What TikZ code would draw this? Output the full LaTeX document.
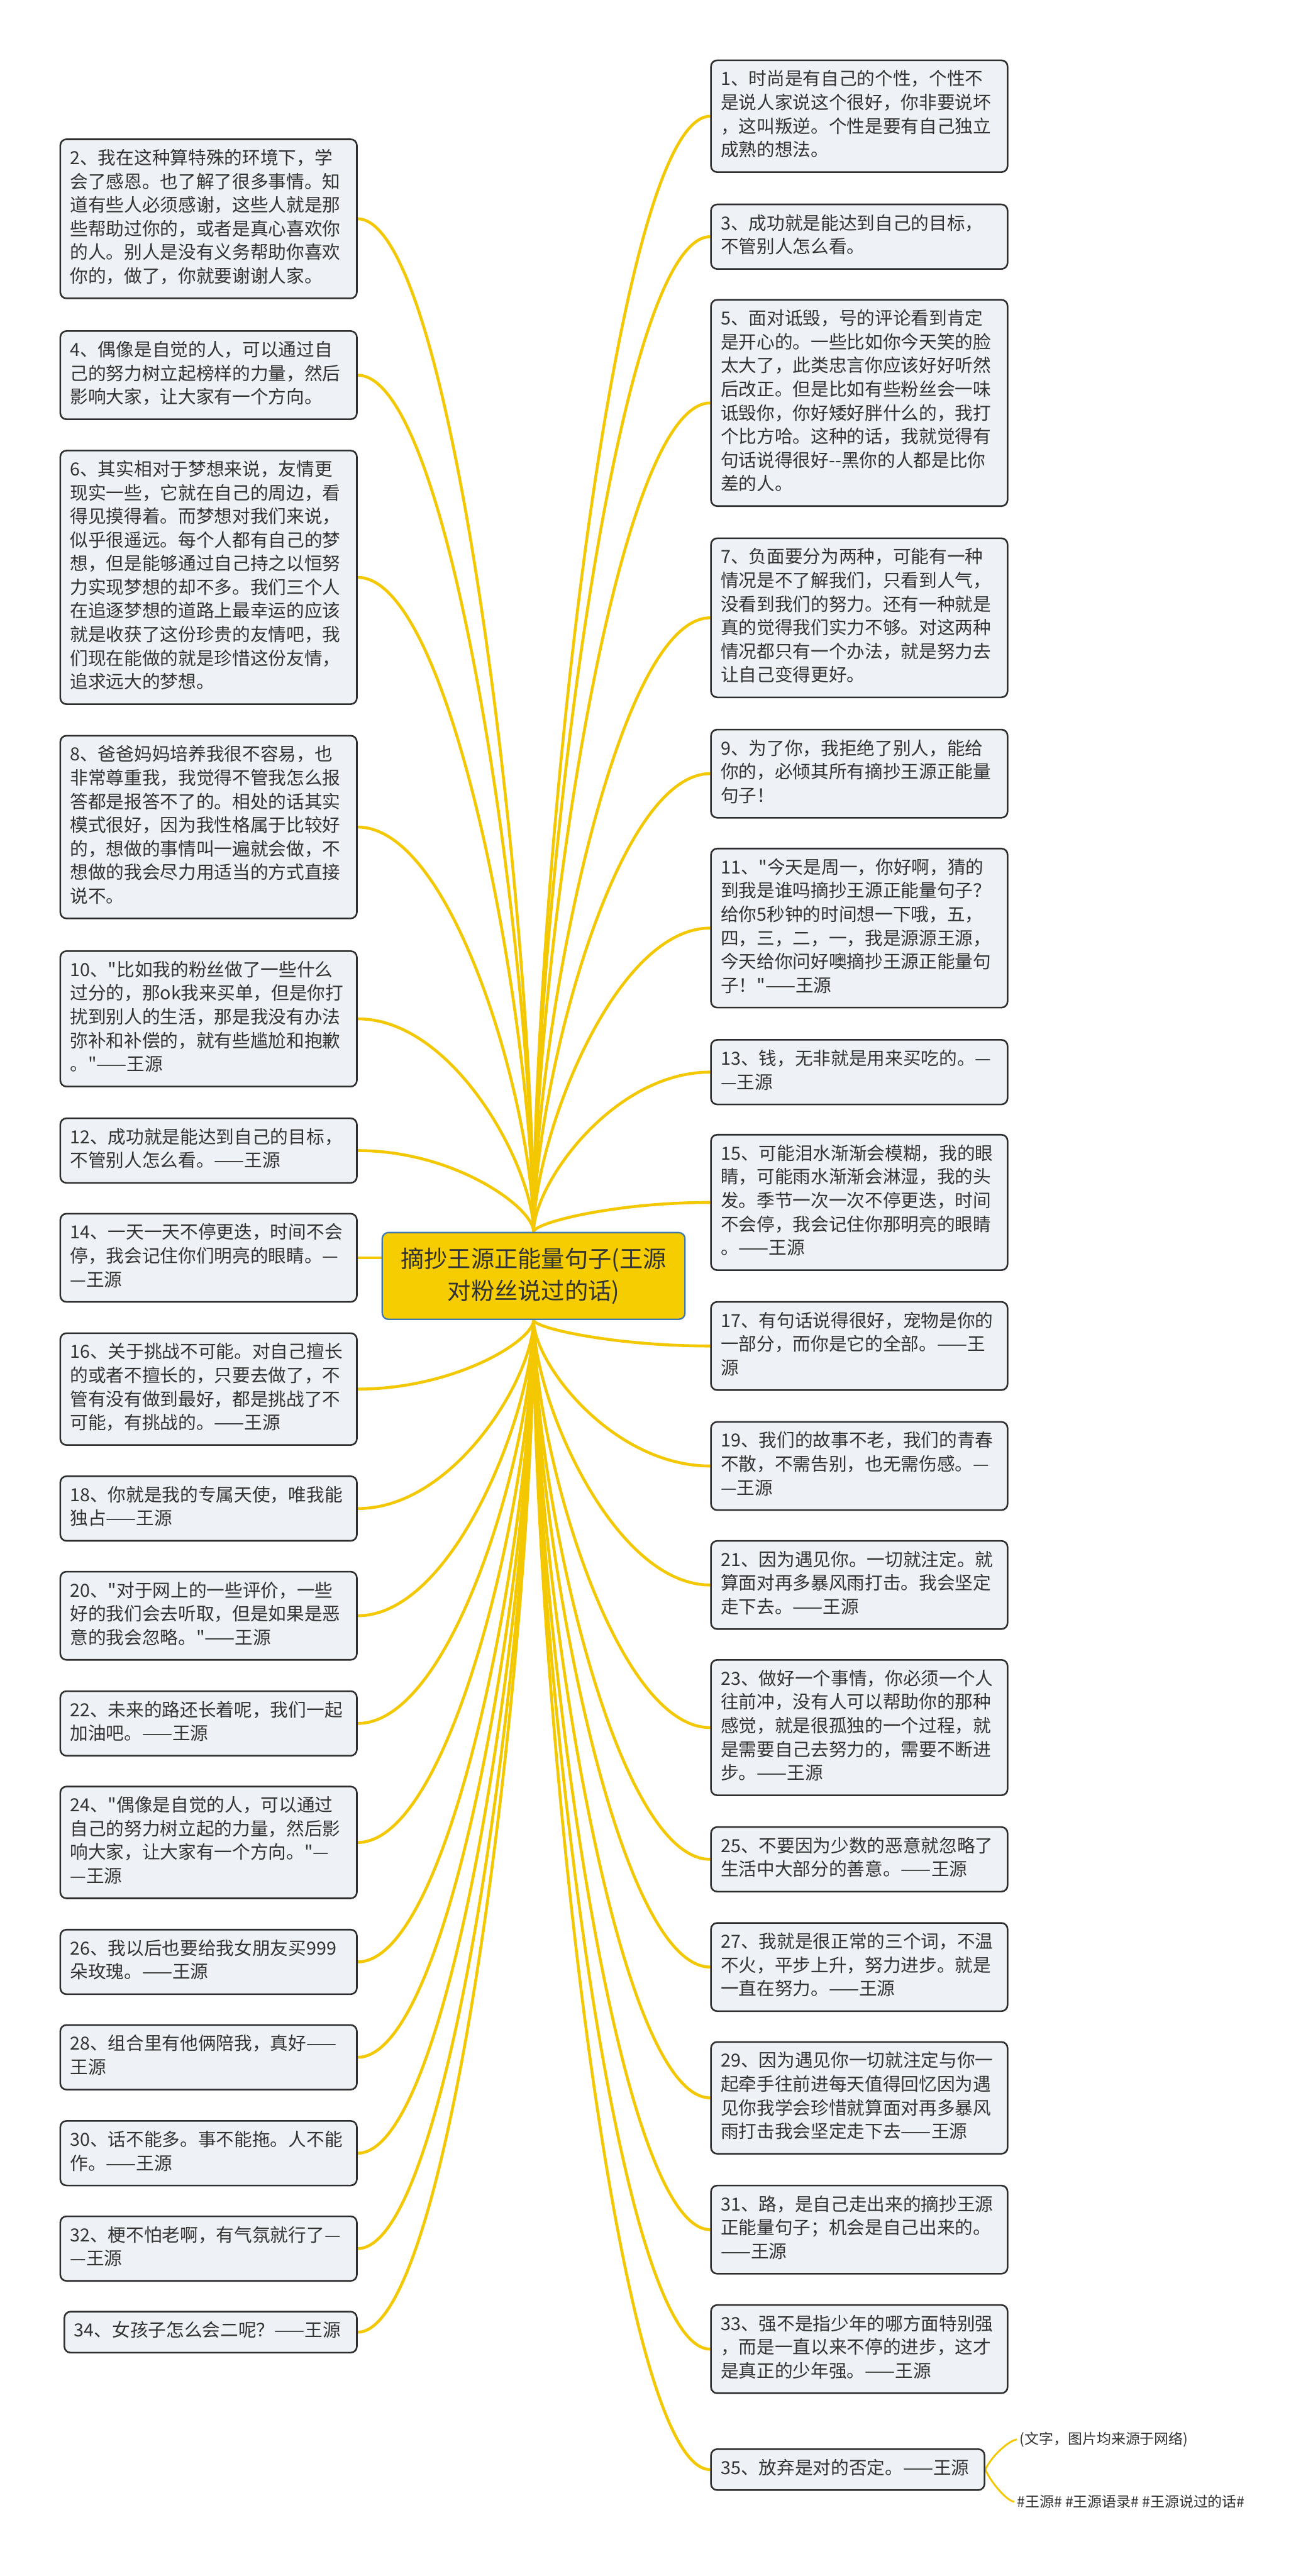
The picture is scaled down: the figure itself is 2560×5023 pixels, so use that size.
\documentclass[tikz,border=0pt]{standalone}
\usepackage{fontspec}
\setmainfont{Noto Sans CJK SC}[Ligatures=TeXOff]
\usetikzlibrary{calc,backgrounds}

\definecolor{branchyellow}{HTML}{F4C800}
\definecolor{rootfill}{HTML}{F6CD00}
\definecolor{rootline}{HTML}{3E78B2}
\definecolor{boxfill}{HTML}{EEF1F5}
\definecolor{boxline}{HTML}{2E2E2E}
\definecolor{textgray}{HTML}{333333}

\tikzset{
  quotebox/.style={draw=boxline, line width=0.9pt, fill=boxfill, rounded corners=0.12cm,
    text=textgray, font=\fontsize{10}{13.1}\selectfont, align=left, text width=5.40cm,
    inner xsep=0.19cm, inner ysep=4.8pt, anchor=north west,
    execute at begin node=\strut, execute at end node=\strut},
  rootbox/.style={draw=rootline, line width=0.8pt, fill=rootfill, rounded corners=0.12cm,
    text=textgray, font=\fontsize{13}{18}\selectfont, align=center,
    minimum width=5.9cm, minimum height=1.69cm, inner sep=0pt, anchor=north west},
  branch/.style={draw=branchyellow, line width=1.6pt},
  tagtext/.style={font=\fontsize{8}{10}\selectfont, text=textgray, inner xsep=0.05cm, anchor=west},
}

% curved connector from the central topic to one quote
\newcommand\branchto[2]{%
  \draw[branch] let \p1=(#1), \p2=(#2) in
    (\p1) .. controls (\x1,{\y1+0.3*(\y2-\y1)}) and ({\x2+0.55*(\x1-\x2)},\y2) .. (\p2);}

\begin{document}
\begin{tikzpicture}[x=0.01cm, y=-0.01cm]
\useasboundingbox (0,0) rectangle (2560,5023);

% central topic
\node[rootbox] (root) at (744,2402) {摘抄王源正能量句子(王源\\对粉丝说过的话)};

% left column
\node[quotebox] (b2) at (116,270) {2、我在这种算特殊的环境下，学\\会了感恩。也了解了很多事情。知\\道有些人必须感谢，这些人就是那\\些帮助过你的，或者是真心喜欢你\\的人。别人是没有义务帮助你喜欢\\你的，做了，你就要谢谢人家。};
\node[quotebox] (b4) at (116,644) {4、偶像是自觉的人，可以通过自\\己的努力树立起榜样的力量，然后\\影响大家，让大家有一个方向。};
\node[quotebox] (b6) at (116,877) {6、其实相对于梦想来说，友情更\\现实一些，它就在自己的周边，看\\得见摸得着。而梦想对我们来说，\\似乎很遥远。每个人都有自己的梦\\想，但是能够通过自己持之以恒努\\力实现梦想的却不多。我们三个人\\在追逐梦想的道路上最幸运的应该\\就是收获了这份珍贵的友情吧，我\\们现在能做的就是珍惜这份友情，\\追求远大的梦想。};
\node[quotebox] (b8) at (116,1433) {8、爸爸妈妈培养我很不容易，也\\非常尊重我，我觉得不管我怎么报\\答都是报答不了的。相处的话其实\\模式很好，因为我性格属于比较好\\的，想做的事情叫一遍就会做，不\\想做的我会尽力用适当的方式直接\\说不。};
\node[quotebox] (b10) at (116,1853) {10、"比如我的粉丝做了一些什么\\过分的，那ok我来买单，但是你打\\扰到别人的生活，那是我没有办法\\弥补和补偿的，就有些尴尬和抱歉\\。"——王源};
\node[quotebox] (b12) at (116,2179) {12、成功就是能达到自己的目标，\\不管别人怎么看。——王源};
\node[quotebox] (b14) at (116,2365) {14、一天一天不停更迭，时间不会\\停，我会记住你们明亮的眼睛。—\\—王源};
\node[quotebox] (b16) at (116,2598) {16、关于挑战不可能。对自己擅长\\的或者不擅长的，只要去做了，不\\管有没有做到最好，都是挑战了不\\可能，有挑战的。——王源};
\node[quotebox] (b18) at (116,2877) {18、你就是我的专属天使，唯我能\\独占——王源};
\node[quotebox] (b20) at (116,3063) {20、"对于网上的一些评价，一些\\好的我们会去听取，但是如果是恶\\意的我会忽略。"——王源};
\node[quotebox] (b22) at (116,3296) {22、未来的路还长着呢，我们一起\\加油吧。——王源};
\node[quotebox] (b24) at (116,3482) {24、"偶像是自觉的人，可以通过\\自己的努力树立起的力量，然后影\\响大家，让大家有一个方向。"—\\—王源};
\node[quotebox] (b26) at (116,3761) {26、我以后也要给我女朋友买999\\朵玫瑰。——王源};
\node[quotebox] (b28) at (116,3947) {28、组合里有他俩陪我，真好——\\王源};
\node[quotebox] (b30) at (116,4134) {30、话不能多。事不能拖。人不能\\作。——王源};
\node[quotebox] (b32) at (116,4320) {32、梗不怕老啊，有气氛就行了—\\—王源};
\node[quotebox, text width=5.32cm] (b34) at (124,4506) {34、女孩子怎么会二呢？——王源};

% right column
\node[quotebox] (b1) at (1385,116) {1、时尚是有自己的个性，个性不\\是说人家说这个很好，你非要说坏\\，这叫叛逆。个性是要有自己独立\\成熟的想法。};
\node[quotebox] (b3) at (1385,397) {3、成功就是能达到自己的目标，\\不管别人怎么看。};
\node[quotebox] (b5) at (1385,583) {5、面对诋毁，号的评论看到肯定\\是开心的。一些比如你今天笑的脸\\太大了，此类忠言你应该好好听然\\后改正。但是比如有些粉丝会一味\\诋毁你，你好矮好胖什么的，我打\\个比方哈。这种的话，我就觉得有\\句话说得很好--黑你的人都是比你\\差的人。};
\node[quotebox] (b7) at (1385,1048) {7、负面要分为两种，可能有一种\\情况是不了解我们，只看到人气，\\没看到我们的努力。还有一种就是\\真的觉得我们实力不够。对这两种\\情况都只有一个办法，就是努力去\\让自己变得更好。};
\node[quotebox] (b9) at (1385,1421) {9、为了你，我拒绝了别人，能给\\你的，必倾其所有摘抄王源正能量\\句子！};
\node[quotebox] (b11) at (1385,1653) {11、"今天是周一，你好啊，猜的\\到我是谁吗摘抄王源正能量句子？\\给你5秒钟的时间想一下哦，五，\\四，三，二，一，我是源源王源，\\今天给你问好噢摘抄王源正能量句\\子！"——王源};
\node[quotebox] (b13) at (1385,2026) {13、钱，无非就是用来买吃的。—\\—王源};
\node[quotebox] (b15) at (1385,2211) {15、可能泪水渐渐会模糊，我的眼\\睛，可能雨水渐渐会淋湿，我的头\\发。季节一次一次不停更迭，时间\\不会停，我会记住你那明亮的眼睛\\。——王源};
\node[quotebox] (b17) at (1385,2537) {17、有句话说得很好，宠物是你的\\一部分，而你是它的全部。——王\\源};
\node[quotebox] (b19) at (1385,2771) {19、我们的故事不老，我们的青春\\不散，不需告别，也无需伤感。—\\—王源};
\node[quotebox] (b21) at (1385,3003) {21、因为遇见你。一切就注定。就\\算面对再多暴风雨打击。我会坚定\\走下去。——王源};
\node[quotebox] (b23) at (1385,3235) {23、做好一个事情，你必须一个人\\往前冲，没有人可以帮助你的那种\\感觉，就是很孤独的一个过程，就\\是需要自己去努力的，需要不断进\\步。——王源};
\node[quotebox] (b25) at (1385,3561) {25、不要因为少数的恶意就忽略了\\生活中大部分的善意。——王源};
\node[quotebox] (b27) at (1385,3748) {27、我就是很正常的三个词，不温\\不火，平步上升，努力进步。就是\\一直在努力。——王源};
\node[quotebox] (b29) at (1385,3980) {29、因为遇见你一切就注定与你一\\起牵手往前进每天值得回忆因为遇\\见你我学会珍惜就算面对再多暴风\\雨打击我会坚定走下去——王源};
\node[quotebox] (b31) at (1385,4260) {31、路，是自己走出来的摘抄王源\\正能量句子；机会是自己出来的。\\——王源};
\node[quotebox] (b33) at (1385,4493) {33、强不是指少年的哪方面特别强\\，而是一直以来不停的进步，这才\\是真正的少年强。——王源};
\node[quotebox, text width=4.95cm] (b35) at (1385,4774) {35、放弃是对的否定。——王源};

% notes hanging off the last quote
\node[tagtext] (t1) at (1983,4757) {(文字，图片均来源于网络)};
\node[tagtext] (t2) at (1978,4878) {\#王源\# \#王源语录\# \#王源说过的话\#};

\begin{scope}[on background layer]
\fill[white] (0,0) rectangle (2560,5023);
\foreach \q in {b2,b4,b6,b8,b10,b12} \branchto{root.north}{\q.east};
\foreach \q in {b1,b3,b5,b7,b9,b11,b13,b15} \branchto{root.north}{\q.west};
\foreach \q in {b16,b18,b20,b22,b24,b26,b28,b30,b32,b34} \branchto{root.south}{\q.east};
\foreach \q in {b17,b19,b21,b23,b25,b27,b29,b31,b33,b35} \branchto{root.south}{\q.west};
\draw[branch] (b14.east) -- (b14.east -| root.west);
\draw[branch, line width=1pt] (b35.east) .. controls +(14,-30) and +(-12,0) .. (t1.west);
\draw[branch, line width=1pt] (b35.east) .. controls +(14,30) and +(-12,0) .. (t2.west);
\end{scope}
\end{tikzpicture}
\end{document}
